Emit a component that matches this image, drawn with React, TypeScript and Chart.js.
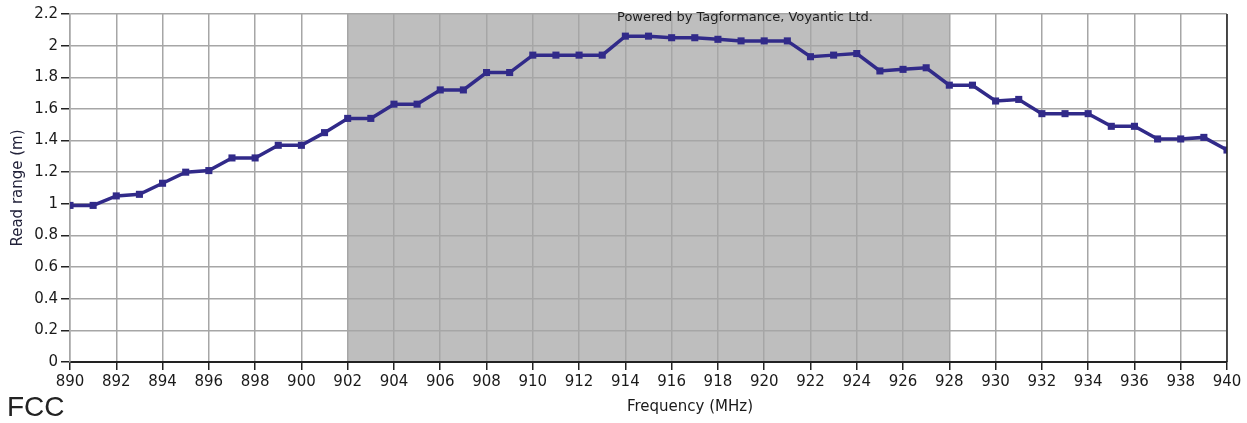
import React, { useEffect, useRef } from "react";
import { Chart, registerables } from "chart.js";

Chart.register(...registerables);

const frequencies: number[] = [
  890, 891, 892, 893, 894, 895, 896, 897, 898, 899, 900, 901, 902, 903, 904, 905, 906, 907, 908, 909,
  910, 911, 912, 913, 914, 915, 916, 917, 918, 919, 920, 921, 922, 923, 924, 925, 926, 927, 928, 929,
  930, 931, 932, 933, 934, 935, 936, 937, 938, 939, 940,
];
const readRange: number[] = [
  0.99, 0.99, 1.05, 1.06, 1.13, 1.2, 1.21, 1.29, 1.29, 1.37, 1.37, 1.45, 1.54, 1.54, 1.63, 1.63, 1.72, 1.72, 1.83, 1.83,
  1.94, 1.94, 1.94, 1.94, 2.06, 2.06, 2.05, 2.05, 2.04, 2.03, 2.03, 2.03, 1.93, 1.94, 1.95, 1.84, 1.85, 1.86, 1.75, 1.75,
  1.65, 1.66, 1.57, 1.57, 1.57, 1.49, 1.49, 1.41, 1.41, 1.42, 1.34,
];
const bandStart = 902;
const bandEnd = 928;
const xMin = 890;
const xMax = 940;
const xStep = 2;
const yMin = 0;
const yMax = 2.2;
const yStep = 0.2;
const xTitle = "Frequency (MHz)";
const yTitle = "Read range (m)";
const watermark = "Powered by Tagformance, Voyantic Ltd.";
const caption = "FCC";

const bandPlugin = {
  id: "bandShade",
  beforeDraw(chart: any) {
    const { ctx, chartArea, scales } = chart;
    const x0 = scales.x.getPixelForValue(bandStart);
    const x1 = scales.x.getPixelForValue(bandEnd);
    ctx.save();
    ctx.fillStyle = "#bebebe";
    ctx.fillRect(x0, chartArea.top, x1 - x0, chartArea.bottom - chartArea.top);
    ctx.restore();
  },
  afterDraw(chart: any) {
    const { ctx, chartArea } = chart;
    ctx.save();
    ctx.strokeStyle = "#222";
    ctx.lineWidth = 1.5;
    ctx.beginPath();
    ctx.moveTo(chartArea.right, chartArea.top);
    ctx.lineTo(chartArea.right, chartArea.bottom);
    ctx.stroke();
    ctx.restore();
  },
};

export default function App() {
  const canvasRef = useRef<HTMLCanvasElement | null>(null);

  useEffect(() => {
    if (!canvasRef.current) return;
    const tickFont = { family: "DejaVu Sans", size: 15 };
    const chart = new Chart(canvasRef.current, {
      type: "line",
      data: {
        datasets: [
          {
            data: frequencies.map((f, i) => ({ x: f, y: readRange[i] })),
            borderColor: "#312a89",
            backgroundColor: "#312a89",
            borderWidth: 3.5,
            pointStyle: "rect",
            pointRadius: 5,
            pointBorderWidth: 0,
            tension: 0,
            fill: false,
          },
        ],
      },
      options: {
        animation: false,
        responsive: true,
        maintainAspectRatio: false,
        layout: { padding: { top: 14, right: 20, left: 0, bottom: 0 } },
        plugins: { legend: { display: false }, tooltip: { enabled: false }, title: { display: false } },
        scales: {
          x: {
            type: "linear",
            min: xMin,
            max: xMax,
            ticks: {
              stepSize: xStep,
              color: "#1a1a1a",
              font: tickFont,
              padding: 3,
              maxRotation: 0,
              autoSkip: false,
              callback: (v: any) => String(v),
            },
            grid: { color: "#a6a6a6", lineWidth: 1.5, tickColor: "#222", tickLength: 8 },
            border: { color: "#222", width: 2 },
            title: { display: false },
            afterFit: (scale: any) => {
              scale.height = 61;
            },
          },
          y: {
            type: "linear",
            min: yMin,
            max: yMax,
            ticks: {
              stepSize: yStep,
              color: "#1a1a1a",
              font: tickFont,
              padding: 3,
              callback: (v: any) => String(Number(Number(v).toFixed(1))),
            },
            grid: { color: "#a6a6a6", lineWidth: 1.5, tickColor: "#222", tickLength: 9 },
            border: { color: "#a6a6a6", width: 1.5 },
            title: {
              display: true,
              text: yTitle,
              color: "#22223a",
              font: { family: "DejaVu Sans", size: 15 },
              padding: { top: 9, bottom: 0 },
            },
            afterFit: (scale: any) => {
              scale.width = 70;
            },
          },
        },
      },
      plugins: [bandPlugin],
    } as any);
    return () => chart.destroy();
  }, []);

  return (
    <div style={{ position: "fixed", left: 0, top: 0, width: 1247, height: 423, background: "#fff" }}>
      <canvas ref={canvasRef} />
      <div
        style={{
          position: "absolute",
          left: 617,
          top: 9,
          fontFamily: "DejaVu Sans",
          fontSize: 13,
          color: "#222",
          whiteSpace: "nowrap",
        }}
      >
        {watermark}
      </div>
      <div
        style={{
          position: "absolute",
          left: 690,
          top: 397,
          transform: "translateX(-50%)",
          fontFamily: "DejaVu Sans",
          fontSize: 15,
          lineHeight: "18px",
          color: "#1a1a1a",
          whiteSpace: "nowrap",
        }}
      >
        {xTitle}
      </div>
      <div
        style={{
          position: "absolute",
          left: 7,
          top: 392,
          fontFamily: "Liberation Sans",
          fontSize: 28,
          lineHeight: "30px",
          color: "#222",
        }}
      >
        {caption}
      </div>
    </div>
  );
}
